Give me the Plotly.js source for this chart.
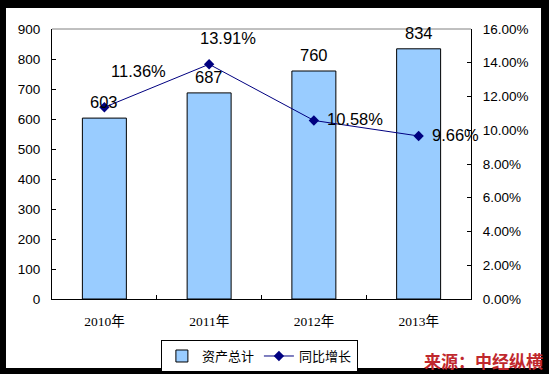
<!DOCTYPE html>
<html>
<head>
<meta charset="utf-8">
<script src="https://cdn.plot.ly/plotly-3.0.1.min.js"></script>
<style>
html,body{margin:0;padding:0;background:#000;}
#chart{width:549px;height:374px;}
</style>
</head>
<body>
<div id="chart"></div>
<script>
// ---- data ----
const categories = ["2010年", "2011年", "2012年", "2013年"];
const totalAssets = [603, 687, 760, 834];
const yoyGrowth = [11.36, 13.91, 10.58, 9.66]; // percent
const seriesNames = ["资产总计", "同比增长"];
const sourceText = "来源：中经纵横";

// label offsets (px) for growth labels, style only
const growthLabelShift = [[34, 36], [19, 26], [41, 1], [37, 1]];

const numFont = "Liberation Sans, Arial, sans-serif";

const barTrace = {
  type: "bar",
  name: seriesNames[0],
  x: categories,
  y: totalAssets,
  width: 0.42,
  marker: {color: "#99CCFF", line: {color: "#000000", width: 1}},
  hoverinfo: "skip"
};
const lineTrace = {
  type: "scatter",
  mode: "lines+markers",
  name: seriesNames[1],
  x: categories,
  y: yoyGrowth.map(v => v / 100),
  yaxis: "y2",
  line: {color: "#000080", width: 1},
  marker: {symbol: "diamond", size: 8, color: "#000080"},
  hoverinfo: "skip"
};

const annotations = [];
categories.forEach((c, i) => {
  annotations.push({
    xref: "x", yref: "y", x: c, y: totalAssets[i],
    text: String(totalAssets[i]), showarrow: false,
    yshift: 16, font: {family: numFont, size: 16.5, color: "#000"}
  });
  annotations.push({
    xref: "x", yref: "y2", x: c, y: yoyGrowth[i] / 100,
    text: yoyGrowth[i].toFixed(2) + "%", showarrow: false,
    xshift: growthLabelShift[i][0], yshift: growthLabelShift[i][1],
    font: {family: numFont, size: 16.5, color: "#000"}
  });
});
annotations.push({
  xref: "paper", yref: "paper", x: 1.031, y: -0.2296,
  xanchor: "center", yanchor: "middle",
  text: "<b>" + sourceText + "</b>", showarrow: false,
  font: {family: "Noto Sans CJK SC, sans-serif", size: 17, color: "#C0282D"}
});

const layout = {
  width: 549, height: 374, autosize: false,
  margin: {l: 52, r: 78, t: 29, b: 75, pad: 0, autoexpand: false},
  paper_bgcolor: "#000000",
  plot_bgcolor: "#ffffff",
  showlegend: true,
  xaxis: {
    type: "category", range: [-0.5, 3.5], automargin: false,
    showline: true, linecolor: "#000", linewidth: 1,
    ticks: "inside", tickson: "boundaries", ticklen: 4, tickcolor: "#000",
    showgrid: false, zeroline: false,
    ticklabelstandoff: 10,
    tickfont: {family: "Liberation Serif, Noto Sans CJK SC, serif", size: 13.5, color: "#000"}
  },
  yaxis: {
    range: [0, 900], dtick: 100, tick0: 0, automargin: false,
    showline: true, linecolor: "#000", linewidth: 1,
    ticks: "inside", ticklen: 4, tickcolor: "#000",
    showgrid: false, zeroline: false,
    ticklabelstandoff: 8,
    tickfont: {family: numFont, size: 13.5, color: "#000"}
  },
  yaxis2: {
    overlaying: "y", side: "right", automargin: false,
    range: [0, 0.16], dtick: 0.02, tick0: 0, tickformat: ".2%",
    showline: true, linecolor: "#000", linewidth: 1,
    ticks: "inside", ticklen: 4, tickcolor: "#000",
    showgrid: false, zeroline: false,
    ticklabelstandoff: 8,
    tickfont: {family: numFont, size: 13.5, color: "#000"}
  },
  legend: {
    orientation: "h", x: 0.495, xanchor: "center", y: -0.152, yanchor: "top",
    bordercolor: "#000", borderwidth: 1, bgcolor: "#fff",
    font: {family: "Noto Sans CJK SC, sans-serif", size: 13, color: "#000"},
    itemwidth: 30, traceorder: "normal"
  },
  shapes: [
    {type: "rect", xref: "paper", yref: "paper", layer: "below",
     x0: -0.1098, x1: 1.1671, y0: -0.2556, y1: 1.0778,
     fillcolor: "#ffffff", line: {width: 0}},
    {type: "line", xref: "paper", yref: "paper", x0: 0, x1: 1, y0: 1, y1: 1,
     line: {color: "#808080", width: 1}}
  ],
  annotations: annotations
};

Plotly.newPlot("chart", [barTrace, lineTrace], layout, {displayModeBar: false, staticPlot: true});
</script>
</body>
</html>
